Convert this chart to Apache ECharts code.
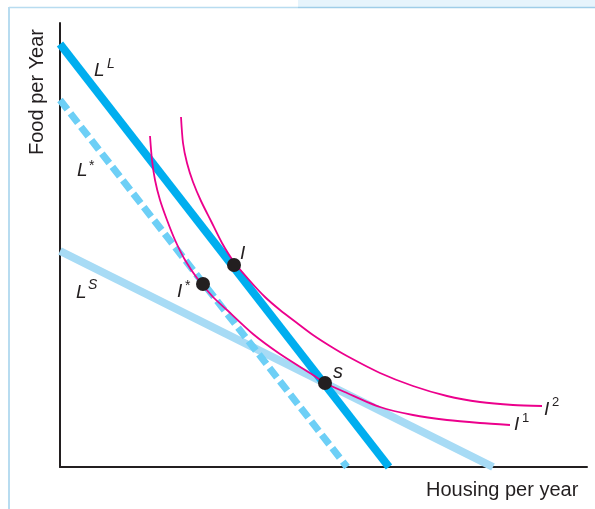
<!DOCTYPE html>
<html>
<head>
<meta charset="utf-8">
<script src="https://cdn.jsdelivr.net/npm/echarts@6/dist/echarts.min.js"></script>
<style>html,body{margin:0;padding:0;background:#fff;}#c{width:595px;height:509px;}</style>
</head>
<body>
<div id="c"></div>
<script>
// Budget lines (housing, food)
const lineLL = [[0, 423], [329, 0]];
const lineLStar = [[0, 367], [287, 0]];
const lineLS = [[0, 216], [433, 0]];
// Indifference curves
const curveI1 = [[90, 331], [92, 307], [95, 287], [100, 267], [107, 247], [115, 227], [125, 207], [137, 189], [153, 170], [167, 157], [193, 133], [220, 113], [253, 92], [265, 84], [287, 74], [320, 60], [353, 52], [387, 47], [420, 44], [450, 42]];
const curveI2 = [[121, 350], [123, 324], [127, 304], [133, 285], [141, 266], [151, 246], [162, 224], [174, 205], [190, 186], [205, 170], [220, 157], [237, 144], [253, 132], [270, 121], [287, 111], [320, 94], [353, 81], [387, 71], [420, 65], [453, 62], [482, 61]];
// Marked bundles: I, I*, s
const pointsIdx = [[174, 202], [143, 183], [265, 84]];
const xTitle = 'Housing per year';
const yTitle = 'Food per Year';

const chart = echarts.init(document.getElementById('c'), null, {renderer: 'canvas'});
const FONT = '"Liberation Sans", Arial, Helvetica, sans-serif';
const INK = '#231f20';
const MAG = '#ec008c';

function txt(x, y, t, size, italic, extra) {
  return Object.assign({
    type: 'text', z: 100,
    style: {x: x, y: y, text: t, fill: INK, fontSize: size, fontFamily: FONT,
      fontStyle: italic ? 'italic' : 'normal', textAlign: 'left', textVerticalAlign: 'middle'}
  }, extra || {});
}

const option = {
  animation: false,
  backgroundColor: '#fff',
  grid: {left: 60, top: 23, width: 527, height: 444},
  xAxis: {type: 'value', min: 0, max: 527, axisLine: {show: true, lineStyle: {color: INK, width: 2}},
    axisTick: {show: false}, axisLabel: {show: false}, splitLine: {show: false}},
  yAxis: {type: 'value', min: 0, max: 444, axisLine: {show: true, lineStyle: {color: INK, width: 2}},
    axisTick: {show: false}, axisLabel: {show: false}, splitLine: {show: false}},
  series: [
    {type: 'line', data: lineLS, symbol: 'none', z: 2, lineStyle: {color: '#a7dbf5', width: 8, cap: 'butt'}},
    {type: 'line', data: lineLStar, symbol: 'none', z: 3, lineStyle: {color: '#6dcff6', width: 7, type: [12, 5], cap: 'butt'}},
    {type: 'line', data: lineLL, symbol: 'none', z: 4, lineStyle: {color: '#00aeef', width: 8, cap: 'butt'}},
    {type: 'line', data: curveI1, symbol: 'none', smooth: 0.25, z: 5, lineStyle: {color: MAG, width: 1.8}},
    {type: 'line', data: curveI2, symbol: 'none', smooth: 0.25, z: 5, lineStyle: {color: MAG, width: 1.8}},
    {type: 'scatter', data: pointsIdx, symbolSize: 14, z: 6, itemStyle: {color: INK, opacity: 1}}
  ],
  graphic: [
    {type: 'rect', shape: {x: 298, y: 0, width: 297, height: 7}, style: {fill: '#e6f4fc'}, z: 1},
    {type: 'line', shape: {x1: 298, y1: 7.5, x2: 595, y2: 7.5}, style: {stroke: '#9fcde8', lineWidth: 1.5}, z: 1},
    {type: 'line', shape: {x1: 9, y1: 7.5, x2: 298, y2: 7.5}, style: {stroke: '#b8dcf0', lineWidth: 1.5}, z: 1},
    {type: 'line', shape: {x1: 9, y1: 7, x2: 9, y2: 509}, style: {stroke: '#b8dcf0', lineWidth: 2}, z: 1},
    txt(426, 490, xTitle, 20, false),
    {type: 'text', z: 100, x: 37, y: 92, rotation: Math.PI / 2,
      style: {x: 0, y: 0, text: yTitle, fill: INK, fontSize: 20, fontFamily: FONT, textAlign: 'center', textVerticalAlign: 'middle'}},
    txt(94, 71, 'L', 19, true), txt(107, 64, 'L', 14, true),
    txt(77, 171, 'L', 19, true), txt(89, 166, '*', 14, false),
    txt(76, 293, 'L', 19, true), txt(88, 285, 'S', 14, true),
    txt(240, 254, 'I', 19, true),
    txt(177, 292, 'I', 19, true), txt(185, 286, '*', 14, false),
    txt(333, 372, 's', 20, true),
    txt(514, 425, 'I', 19, true), txt(522, 418, '1', 13, false),
    txt(544, 410, 'I', 19, true), txt(552, 402, '2', 13, false)
  ]
};
chart.setOption(option);
</script>
</body>
</html>
